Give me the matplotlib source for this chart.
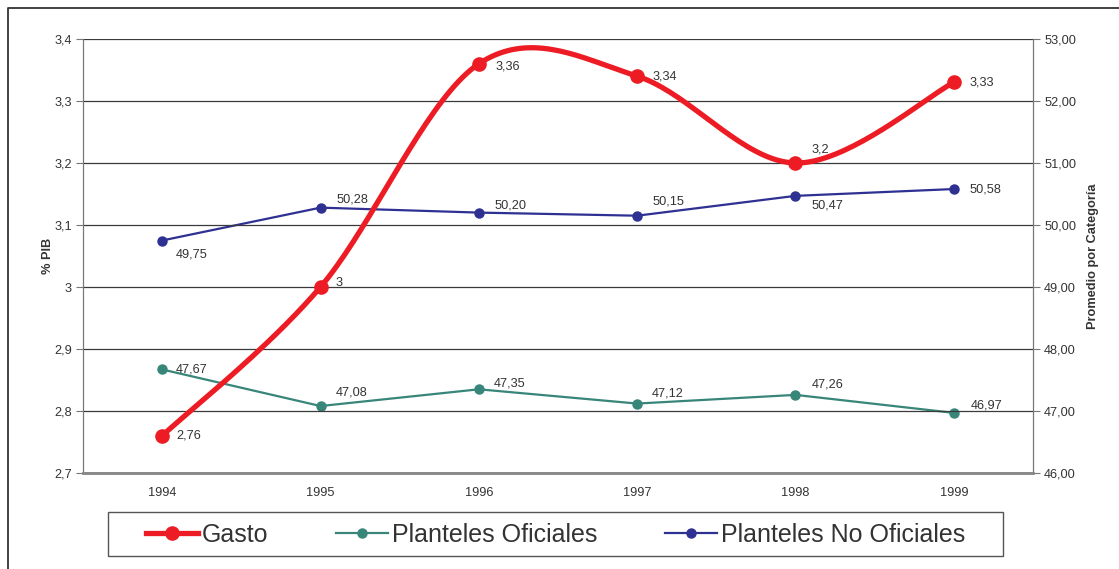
import numpy as np
import matplotlib
matplotlib.use("Agg")
import matplotlib.pyplot as plt
from matplotlib.lines import Line2D
from matplotlib.patches import Rectangle

plt.rcParams['font.family'] = ['Liberation Sans', 'DejaVu Sans']

years = ["1994", "1995", "1996", "1997", "1998", "1999"]
gasto = [2.76, 3.0, 3.36, 3.34, 3.2, 3.33]
gasto_labels = ["2,76", "3", "3,36", "3,34", "3,2", "3,33"]
oficiales = [47.67, 47.08, 47.35, 47.12, 47.26, 46.97]
no_oficiales = [49.75, 50.28, 50.20, 50.15, 50.47, 50.58]

RED = "#ED1C24"
TEAL = "#38857A"
BLUE = "#2E3192"
TXT = "#333333"
FS = 9.2


def smooth(xs, ys, n=40):
    # Excel-like smoothed line: Catmull-Rom converted to cubic Bezier segments
    xs = np.asarray(xs, float)
    ys = np.asarray(ys, float)
    px, py = [], []
    for i in range(len(xs) - 1):
        i0 = max(i - 1, 0)
        i3 = min(i + 2, len(xs) - 1)
        p0 = np.array([xs[i0], ys[i0]])
        p1 = np.array([xs[i], ys[i]])
        p2 = np.array([xs[i + 1], ys[i + 1]])
        p3 = np.array([xs[i3], ys[i3]])
        c1 = p1 + (p2 - p0) / 6
        c2 = p2 - (p3 - p1) / 6
        t = np.linspace(0, 1, n)[:, None]
        pts = ((1 - t) ** 3) * p1 + 3 * ((1 - t) ** 2) * t * c1 + 3 * (1 - t) * t ** 2 * c2 + t ** 3 * p2
        px.extend(pts[:, 0])
        py.extend(pts[:, 1])
    return px, py


fig = plt.figure(figsize=(11.19, 5.69), dpi=100)
ax = fig.add_axes([83 / 1119, 1 - 473 / 569, 950 / 1119, 434 / 569])
ax2 = ax.twinx()
ax.set_zorder(ax2.get_zorder() + 1)
ax.patch.set_visible(False)

x = np.arange(len(years))

# secondary axis series
ax2.plot(x, oficiales, color=TEAL, lw=1.6, marker="o", ms=6.5)
ax2.plot(x, no_oficiales, color=BLUE, lw=1.6, marker="o", ms=6.5)

# gasto, smoothed
sx, sy = smooth(x, gasto)
ax.plot(sx, sy, color=RED, lw=3.8, solid_capstyle="round")
ax.plot(x, gasto, ls="none", marker="o", ms=9.5, color=RED)

ax.set_xlim(-0.5, len(years) - 0.5)
ax.set_ylim(2.7, 3.4)
ax2.set_ylim(46, 53)
left_ticks = np.round(np.arange(2.7, 3.41, 0.1), 1)
right_ticks = np.arange(46, 53.1, 1)
ax.set_yticks(left_ticks)
ax2.set_yticks(right_ticks)
ax.set_yticklabels([f"{v:g}".replace(".", ",") for v in left_ticks])
ax2.set_yticklabels([f"{v:.2f}".replace(".", ",") for v in right_ticks])
ax.set_xticks(x)
ax.set_xticklabels(years)

ax.grid(axis="y", color="#3a3a3a", lw=0.9)
ax.set_axisbelow(True)
for a in (ax, ax2):
    a.spines["top"].set_visible(False)
    a.spines["left"].set_color("#777777")
    a.spines["right"].set_color("#777777")
    a.spines["bottom"].set_color("#888888")
    a.spines["bottom"].set_linewidth(1.8)
ax.tick_params(axis="x", length=0, pad=10, labelsize=FS, labelcolor=TXT)
ax.tick_params(axis="y", length=5, width=0.8, color="#777777", labelsize=FS, labelcolor=TXT, pad=3)
ax2.tick_params(axis="y", length=5, width=0.8, color="#777777", labelsize=FS, labelcolor=TXT, pad=3)

ax.set_ylabel("% PIB", fontsize=FS, fontweight="bold", color=TXT, labelpad=0)
ax2.set_ylabel("Promedio por Categoría", fontsize=FS, fontweight="bold", color=TXT, labelpad=8)

# data labels (pixel offsets)
g_off = [(14, 0), (15, 4), (17, -3), (15, 0), (16, 13), (16, 0)]
o_off = [(14, 0), (15, 14), (15, 6), (15, 10), (16, 10), (17, 7)]
n_off = [(14, -14), (16, 8), (16, 7), (15, 14), (16, -10), (16, 0)]
to_left = ax.transData.inverted()
for i in range(len(years)):
    ax.annotate(gasto_labels[i], (x[i], gasto[i]), xytext=g_off[i], textcoords="offset pixels",
                ha="left", va="center", fontsize=FS, color=TXT)
    ax.annotate(f"{oficiales[i]:.2f}".replace(".", ","),
                to_left.transform(ax2.transData.transform((x[i], oficiales[i]))),
                xytext=o_off[i], textcoords="offset pixels", ha="left", va="center", fontsize=FS, color=TXT)
    ax.annotate(f"{no_oficiales[i]:.2f}".replace(".", ","),
                to_left.transform(ax2.transData.transform((x[i], no_oficiales[i]))),
                xytext=n_off[i], textcoords="offset pixels", ha="left", va="center", fontsize=FS, color=TXT)

handles = [
    Line2D([], [], color=RED, lw=3.8, marker="o", ms=9.5),
    Line2D([], [], color=TEAL, lw=1.6, marker="o", ms=6.5),
    Line2D([], [], color=BLUE, lw=1.6, marker="o", ms=6.5),
]
leg = fig.legend(handles, ["Gasto", "Planteles Oficiales", "Planteles No Oficiales"],
                 loc="center", bbox_to_anchor=(555.5 / 1119, 1 - 535 / 569), ncol=3,
                 fontsize=18, frameon=False, handlelength=2.1,
                 handletextpad=0.15, columnspacing=2.7, borderpad=0.3, borderaxespad=0)
for t in leg.get_texts():
    t.set_color(TXT)
fig.add_artist(Rectangle((108 / 1119, 1 - 556 / 569), 895 / 1119, 44 / 569,
                         transform=fig.transFigure, fill=False, edgecolor="#555555", lw=1.0))

# outer frame (top and left edges)
fig.add_artist(Line2D([8 / 1119, 8 / 1119, 1], [0, 1 - 8 / 569, 1 - 8 / 569],
                      transform=fig.transFigure, color="#333333", lw=1.3))

fig.savefig("out.png", dpi=100)
